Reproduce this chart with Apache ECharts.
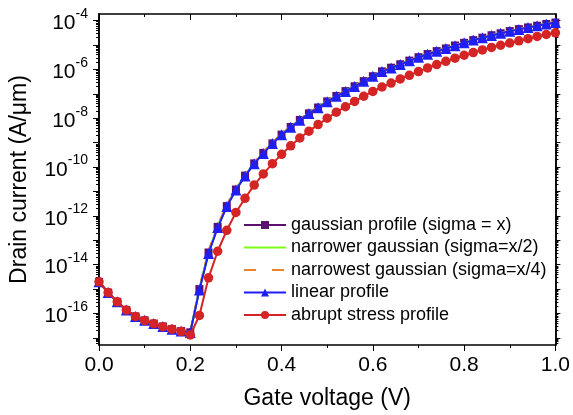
<!DOCTYPE html>
<html><head><meta charset="utf-8">
<script src="https://cdn.jsdelivr.net/npm/echarts@6/dist/echarts.min.js"></script>
<style>html,body{margin:0;padding:0;background:#fff}#c{width:573px;height:415px}</style>
</head><body><div id="c"></div>
<script>
// Gate voltage (V)
const voltage = [0,0.02,0.04,0.06,0.08,0.10,0.12,0.14,0.16,0.18,0.20,
  0.22,0.24,0.26,0.28,0.30,0.32,0.34,0.36,0.38,0.40,
  0.42,0.44,0.46,0.48,0.50,0.52,0.54,0.56,0.58,0.60,
  0.62,0.64,0.66,0.68,0.70,0.72,0.74,0.76,0.78,0.80,
  0.82,0.84,0.86,0.88,0.90,0.92,0.94,0.96,0.98,1.00];
// log10 of drain current (A/um)
const gaussianX = [-14.70,-15.14,-15.52,-15.86,-16.12,-16.28,-16.41,-16.53,-16.64,-16.72,-16.77,
  -15.00,-13.50,-12.45,-11.60,-10.92,-10.35,-9.85,-9.42,-9.03,-8.67,
  -8.36,-8.07,-7.80,-7.56,-7.31,-7.09,-6.89,-6.69,-6.48,-6.28,
  -6.08,-5.93,-5.79,-5.64,-5.50,-5.37,-5.25,-5.14,-5.02,-4.91,
  -4.80,-4.70,-4.60,-4.52,-4.43,-4.35,-4.28,-4.21,-4.14,-4.08];
const narrowerX2 = [-14.70,-15.14,-15.52,-15.86,-16.12,-16.28,-16.41,-16.53,-16.64,-16.72,-16.77,
  -14.98,-13.48,-12.43,-11.58,-10.90,-10.34,-9.84,-9.41,-9.02,-8.66,
  -8.35,-8.06,-7.79,-7.55,-7.30,-7.08,-6.88,-6.68,-6.48,-6.27,
  -6.08,-5.93,-5.79,-5.64,-5.49,-5.37,-5.25,-5.13,-5.02,-4.90,
  -4.79,-4.69,-4.60,-4.51,-4.43,-4.35,-4.27,-4.20,-4.13,-4.07];
const narrowestX4 = [-14.70,-15.14,-15.52,-15.86,-16.12,-16.28,-16.41,-16.53,-16.64,-16.72,-16.76,
  -14.92,-13.42,-12.38,-11.54,-10.86,-10.30,-9.80,-9.38,-8.99,-8.63,
  -8.33,-8.04,-7.77,-7.53,-7.28,-7.07,-6.87,-6.67,-6.47,-6.26,
  -6.07,-5.92,-5.78,-5.63,-5.49,-5.36,-5.24,-5.13,-5.01,-4.90,
  -4.79,-4.69,-4.60,-4.51,-4.43,-4.35,-4.27,-4.20,-4.13,-4.07];
const linearProfile = [-14.70,-15.14,-15.52,-15.86,-16.12,-16.28,-16.41,-16.53,-16.64,-16.72,-16.78,
  -15.04,-13.54,-12.48,-11.62,-10.94,-10.37,-9.86,-9.44,-9.04,-8.68,
  -8.37,-8.08,-7.81,-7.57,-7.32,-7.10,-6.90,-6.70,-6.49,-6.28,
  -6.09,-5.94,-5.80,-5.65,-5.50,-5.38,-5.26,-5.14,-5.03,-4.91,
  -4.80,-4.70,-4.61,-4.52,-4.44,-4.36,-4.28,-4.21,-4.14,-4.08];
const abruptProfile = [-14.70,-15.14,-15.52,-15.86,-16.12,-16.29,-16.42,-16.54,-16.64,-16.74,-16.88,
  -16.08,-14.54,-13.45,-12.59,-11.86,-11.28,-10.74,-10.28,-9.86,-9.48,
  -9.13,-8.81,-8.53,-8.26,-8.00,-7.75,-7.53,-7.31,-7.10,-6.90,
  -6.72,-6.56,-6.39,-6.24,-6.09,-5.94,-5.80,-5.67,-5.54,-5.42,
  -5.31,-5.20,-5.10,-5.01,-4.92,-4.83,-4.74,-4.65,-4.57,-4.50];
// tick labels
const yLabelExponents = [-16,-14,-12,-10,-8,-6,-4];
const yDecades = [-17,-16,-15,-14,-13,-12,-11,-10,-9,-8,-7,-6,-5,-4];
const yMinorMultipliers = [2,3,4,5,6,7,8,9];

const FONT = 'Liberation Sans, Arial, sans-serif';
const yMin = -17.29, yMax = -3.73;
const minorTicks = [];
[-18].concat(yDecades).forEach(d => yMinorMultipliers.forEach(m => {
  const v = d + Math.log10(m); if (v > yMin && v < yMax) minorTicks.push(v);
}));
const pairs = arr => voltage.map((v, i) => [v, arr[i]]);

const chart = echarts.init(document.getElementById('c'), null, {renderer: 'canvas'});
const axisLineStyle = {color: '#000', width: 1.5};
function yAx(pos, ticks, len, labels) {
  return {
    type: 'value', position: pos, min: yMin, max: yMax, gridIndex: 0,
    axisLine: {show: true, onZero: false, lineStyle: axisLineStyle},
    axisTick: {show: true, inside: false, length: len, customValues: ticks, lineStyle: {color: '#000', width: 1}},
    axisLabel: labels ? {
      show: true, customValues: yLabelExponents, margin: 11,
      formatter: v => '{b|10}{s|' + v + '}',
      rich: {
        b: {fontSize: 21, fontFamily: FONT, color: '#000', lineHeight: 27, verticalAlign: 'bottom'},
        s: {fontSize: 14, fontFamily: FONT, color: '#000', lineHeight: 14, verticalAlign: 'top'}
      }
    } : {show: false},
    splitLine: {show: false}
  };
}
const yAxes = [yAx('left', yDecades, 6, true), yAx('left', minorTicks, 3, false),
               yAx('right', yDecades, 5, false), yAx('right', minorTicks, 3, false)];
yAxes[0].name = 'Drain current (A/\u03bcm)';
yAxes[0].nameLocation = 'middle';
yAxes[0].nameGap = 68;
yAxes[0].nameTextStyle = {fontSize: 23, fontFamily: FONT, color: '#000'};

function xAx(pos, inside, labels) {
  return {
    type: 'value', position: pos, min: 0, max: 1, interval: 0.2,
    axisLine: {show: true, onZero: false, lineStyle: axisLineStyle},
    axisTick: {show: true, inside: inside, length: 6, lineStyle: {color: '#000', width: 1}},
    minorTick: {show: true, splitNumber: 2, length: 3, lineStyle: {color: '#000', width: 1}},
    axisLabel: labels ? {show: true, margin: 10, fontSize: 21, fontFamily: FONT, color: '#000',
      formatter: v => v.toFixed(1)} : {show: false},
    splitLine: {show: false}, minorSplitLine: {show: false}
  };
}
const xAxes = [xAx('bottom', false, true), xAx('top', true, false)];
xAxes[0].name = 'Gate voltage (V)';
xAxes[0].nameLocation = 'middle';
xAxes[0].nameGap = 42;
xAxes[0].nameTextStyle = {fontSize: 23, fontFamily: FONT, color: '#000'};

function ser(name, data, color, symbol, size, dash, z) {
  return {
    name, type: 'line', data: pairs(data), xAxisIndex: 0, yAxisIndex: 0, z,
    symbol: symbol, symbolSize: size, showSymbol: symbol !== 'none',
    lineStyle: {color, width: 2, type: dash ? [8, 8] : 'solid'},
    itemStyle: {color, borderWidth: 0},
    emphasis: {disabled: true}
  };
}

const names = ['gaussian profile (sigma = x)', 'narrower gaussian (sigma=x/2)',
               'narrowest gaussian (sigma=x/4)', 'linear profile', 'abrupt stress profile'];
chart.setOption({
  animation: false,
  backgroundColor: '#fff',
  grid: {left: 98, right: 16, top: 14, bottom: 62, containLabel: false},
  xAxis: xAxes,
  yAxis: yAxes,
  legend: {
    show: true, orient: 'vertical', left: 238, top: 211,
    itemWidth: 42, itemHeight: 10, itemGap: 4.5,
    textStyle: {fontSize: 18, lineHeight: 18, fontFamily: FONT, color: '#000'},
    data: [
      {name: names[0]},
      {name: names[1], itemStyle: {opacity: 0}},
      {name: names[2], itemStyle: {opacity: 0}, lineStyle: {type: [12, 16], width: 2}},
      {name: names[3]},
      {name: names[4]}
    ]
  },
  series: [
    ser(names[0], gaussianX, '#5b0f6e', 'rect', 8, false, 2),
    ser(names[1], narrowerX2, '#7cfc1a', 'none', 0, false, 3),
    ser(names[2], narrowestX4, '#e8842c', 'none', 0, true, 4),
    ser(names[3], linearProfile, '#1f1ff5', 'triangle', 11, false, 5),
    ser(names[4], abruptProfile, '#d42424', 'circle', 9.5, false, 6)
  ]
});
</script></body></html>
